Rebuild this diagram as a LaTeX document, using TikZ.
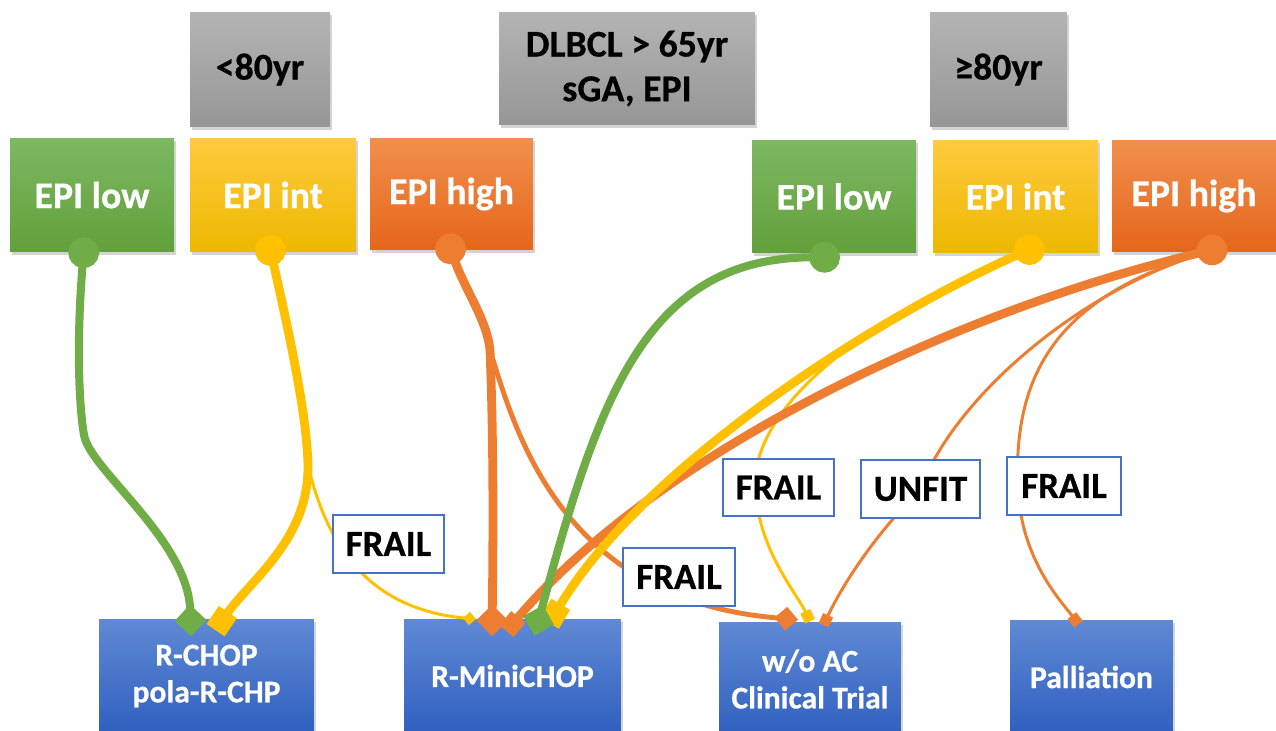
\documentclass[tikz,border=0pt]{standalone}
\usepackage{fontspec}
\setmainfont{Carlito}[BoldFeatures={FakeBold=0.6}]
\usetikzlibrary{calc}
\usetikzlibrary{shadows}
\usetikzlibrary{arrows.meta}
\definecolor{ageTop}{HTML}{B4B4B4}
\definecolor{ageBot}{HTML}{969696}
\definecolor{lowTop}{HTML}{7DB862}
\definecolor{lowBot}{HTML}{62A03A}
\definecolor{intTop}{HTML}{FFCA3E}
\definecolor{intBot}{HTML}{EDB800}
\definecolor{highTop}{HTML}{F18F4E}
\definecolor{highBot}{HTML}{E5661A}
\definecolor{careTop}{HTML}{5F89D4}
\definecolor{careBot}{HTML}{3060BF}
\definecolor{lowLine}{HTML}{70AD47}
\definecolor{intLine}{HTML}{FFC000}
\definecolor{highLine}{HTML}{ED7D31}
\definecolor{tagEdge}{HTML}{4472C4}
\pgfdeclarelayer{foreground}
\pgfsetlayers{main,foreground}
\tikzset{
    % Shaded slide boxes with a soft shadow
    tree box/.style={rectangle, inner sep=0pt, align=center,
        font=\bfseries\fontsize{21.5}{25.4}\selectfont,
        drop shadow={shadow xshift=1.4pt, shadow yshift=-1.6pt,
            opacity=.35}},
    age box/.style={tree box, top color=ageTop, bottom color=ageBot,
        minimum height=2.3cm},
    low box/.style={tree box, top color=lowTop, bottom color=lowBot,
        text=white, minimum height=2.26cm},
    int box/.style={tree box, top color=intTop, bottom color=intBot,
        text=white, minimum height=2.26cm},
    high box/.style={tree box, top color=highTop, bottom color=highBot,
        text=white, minimum height=2.24cm},
    care box/.style={tree box, top color=careTop, bottom color=careBot,
        text=white, minimum height=2.26cm,
        font=\bfseries\fontsize{18}{21}\selectfont},
    % The white tags sitting on the connectors
    tag box/.style={rectangle, inner sep=0pt, fill=white,
        draw=tagEdge, line width=.7pt, minimum height=1.16cm,
        font=\bfseries\fontsize{21}{25}\selectfont},
    % Connector weights
    heavy/.style={line width=5pt},
    medium/.style={line width=2.8pt},
    light/.style={line width=1.7pt},
    % Arrow ends
    BigDot/.tip={Circle[length=17.5pt]},
    BigDiamond/.tip={Turned Square[length=18pt, width=18pt]},
    BigSquare/.tip={Square[length=12.5pt, width=12.5pt]},
    MidSquare/.tip={Square[length=10.5pt, width=10.5pt]},
    MidDiamond/.tip={Turned Square[length=13.5pt, width=13.5pt]},
    SmallDiamond/.tip={Turned Square[length=7.5pt, width=7.5pt]},
    SmallSquare/.tip={Square[length=6.2pt, width=6.2pt]}}

\begin{document}
\begin{tikzpicture}[x=0.02cm, y=-0.02cm]
\useasboundingbox (0,0) rectangle (1276,731);

% Entry and age groups
\node (young) [age box, minimum width=2.8cm] at (260,69.5) {<80yr};
\node (entry) [age box, minimum width=5.12cm, minimum height=2.26cm]
    at (627,68.5) {DLBCL > 65yr\\sGA, EPI};
\node (old) [age box, minimum width=2.74cm] at (998.5,69.5) {≥80yr};

% EPI groups
\node (lowY) [low box, minimum width=3.28cm, minimum height=2.28cm]
    at (92,195) {EPI low};
\node (intY) [int box, minimum width=3.32cm, minimum height=2.28cm]
    at (273,195) {EPI int};
\node (highY) [high box, minimum width=3.26cm] at (451.5,194) {EPI high};
\node (lowO) [low box, minimum width=3.28cm] at (834,196.5) {EPI low};
\node (intO) [int box, minimum width=3.3cm] at (1015.5,196.5) {EPI int};
\node (highO) [high box, minimum width=3.28cm] at (1194,196) {EPI high};

% Treatments
\node (rchop) [care box, minimum width=4.3cm] at (206.5,676)
    {R-CHOP\\pola-R-CHP};
\node (mini) [care box, minimum width=4.34cm] at (512.5,676)
    {R-MiniCHOP};
\node (woac) [care box, minimum width=3.64cm] at (810,679)
    {w/o AC\\Clinical Trial};
\node (pall) [care box, minimum width=3.26cm] at (1091.5,677)
    {Palliation};

\begin{pgfonlayer}{foreground}
\node (frailA) [tag box, minimum width=2.22cm] at (388.5,544) {FRAIL};
\node (frailB) [tag box, minimum width=2.24cm] at (679,577) {FRAIL};
\node (frailC) [tag box, minimum width=2.22cm, minimum height=1.14cm]
    at (778.5,487.5) {FRAIL};
\node (unfit) [tag box, minimum width=2.38cm] at (920.5,489) {UNFIT};
\node (frailD) [tag box, minimum width=2.28cm] at (1064,486) {FRAIL};
\end{pgfonlayer}

\coordinate (forkA) at (308,465);
\coordinate (forkB) at (490,350);

% <80yr branches
\draw [light, intLine, -SmallDiamond] ($(intY.south)+(-6,-15)$)
    .. controls (300,380) and (307,430) .. (forkA)
    .. controls (330,560) and (380,610) .. ($(mini.north)+(-36.5,0)$);
\draw [medium, highLine, -MidDiamond] ($(highY.south)+(-6,-14)$)
    .. controls (465,290) and (487,320) .. (forkB)
    .. controls (515,430) and (560,600) .. ($(woac.north)+(-12,-2.5)$);
\draw [heavy, line width=4.6pt, lowLine, BigDot-BigDiamond]
    ($(lowY.south)+(-7,-15)$)
    .. controls (77,330) and (78,400) .. (84,435)
    .. controls (90,470) and (188,540) .. ($(rchop.north)+(-15.5,17)$);
\draw [heavy, intLine, BigDot-BigSquare] ($(intY.south)+(-6,-17)$)
    .. controls (300,380) and (307,430) .. (forkA)
    .. controls (309,540) and (250,580) .. ($(rchop.north)+(9,11)$);
\draw [heavy, highLine, BigDot-BigDiamond] ($(highY.south)+(-6,-16)$)
    .. controls (465,290) and (487,320) .. (forkB)
    .. controls (494,450) and (493,550) .. ($(mini.north)+(-20.5,17)$);

% >=80yr branches
\draw [light, intLine, -SmallSquare] ($(intO.south)+(26.5,-9)$)
    .. controls (880,310) and (770,390) .. (756,470)
    .. controls (750,540) and (795,590) .. ($(woac.north)+(0,-1)$);
\draw [light, highLine, -SmallSquare] ($(highO.south)+(31,-5)$)
    .. controls (1090,280) and (955,395) .. (unfit.center)
    .. controls (870,540) and (840,590) .. ($(woac.north)+(13.5,3)$);
\draw [light, highLine, -SmallSquare] ($(highO.south)+(31,-5)$)
    .. controls (1060,290) and (1012,370) .. (1018,490)
    .. controls (1022,560) and (1060,600) .. ($(pall.north)+(-13,4)$);
\draw [heavy, highLine, BigDot-MidSquare] ($(highO.south)+(33,-6)$)
    .. controls (940,315) and (650,460) .. ($(mini.north)+(-6,12)$);
\draw [heavy, intLine, BigDot-BigSquare] ($(intO.south)+(28,-10)$)
    .. controls (870,320) and (640,470) .. ($(mini.north)+(37,4)$);
\draw [heavy, line width=4.6pt, lowLine, BigDot-BigDiamond]
    ($(lowO.south)+(6,4)$)
    .. controls (645,257) and (598,400) .. ($(mini.north)+(22,16.5)$);

\end{tikzpicture}
\end{document}
